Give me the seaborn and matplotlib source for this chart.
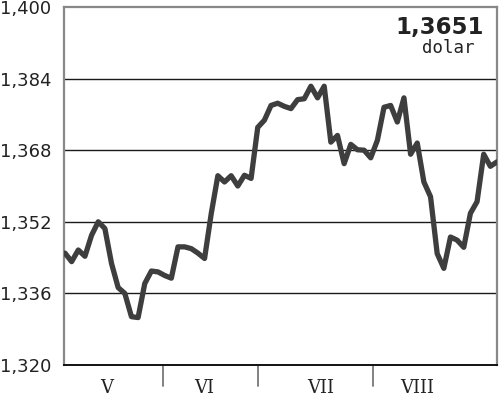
import matplotlib
matplotlib.use("Agg")
import matplotlib.pyplot as plt
import seaborn as sns
import pandas as pd

# ---- data ----
values = [1.3450, 1.3431, 1.3457, 1.3443, 1.3490, 1.3520, 1.3505, 1.3427, 1.3373, 1.3360,
          1.3308, 1.3306, 1.3382, 1.3410, 1.3408, 1.3400, 1.3394, 1.3464, 1.3464, 1.3460,
          1.3450, 1.3438, 1.3538, 1.3623, 1.3609, 1.3623, 1.3600, 1.3624, 1.3617, 1.3731,
          1.3747, 1.3780, 1.3785, 1.3778, 1.3773, 1.3793, 1.3795, 1.3823, 1.3797, 1.3823,
          1.3698, 1.3713, 1.3650, 1.3693, 1.3681, 1.3680, 1.3663, 1.3702, 1.3776, 1.3780,
          1.3743, 1.3797, 1.3671, 1.3696, 1.3609, 1.3576, 1.3449, 1.3416, 1.3486, 1.3479,
          1.3463, 1.3539, 1.3565, 1.3671, 1.3644, 1.3654]
y_ticks = [1.320, 1.336, 1.352, 1.368, 1.384, 1.400]
y_tick_labels = ["1,320", "1,336", "1,352", "1,368", "1,384", "1,400"]
month_labels = ["V", "VI", "VII", "VIII"]
month_label_pos = [6.3, 20.9, 38.5, 53.0]
month_boundaries = [14.8, 29.1, 46.4]
last_value_text = "1,3651"
unit_text = "dolar"

df = pd.DataFrame({"day": range(len(values)), "rate": values})

sns.set_style("white")
fig = plt.figure(figsize=(5.0, 3.96), dpi=100)
ax = fig.add_axes([0.128, 0.0783, 0.866, 0.904])

for yv in y_ticks[1:-1]:
    ax.axhline(yv, color="#1a1a1a", lw=1.0, zorder=1)

sns.lineplot(data=df, x="day", y="rate", ax=ax, color="#3e3e3e", lw=3.8,
             zorder=3, legend=False)
for line in ax.lines:
    line.set_solid_joinstyle("round")
    line.set_solid_capstyle("round")

ax.set_ylim(y_ticks[0], y_ticks[-1])
ax.set_xlim(-0.15, len(values) - 1)
ax.set_yticks(y_ticks)
ax.set_yticklabels(y_tick_labels, fontfamily="DejaVu Sans", fontsize=13, color="#222222")
ax.set_xticks(month_label_pos)
ax.set_xticklabels(month_labels, fontfamily="DejaVu Serif", fontsize=13, color="#222222")
ax.tick_params(axis="y", length=0, pad=9)
ax.tick_params(axis="x", length=0, pad=10)
ax.set_xlabel("")
ax.set_ylabel("")

for side in ["left", "right", "top"]:
    ax.spines[side].set_color("#888888")
    ax.spines[side].set_linewidth(1.6)
ax.spines["bottom"].set_color("#111111")
ax.spines["bottom"].set_linewidth(1.4)

trans = ax.get_xaxis_transform()
for b in month_boundaries:
    ax.plot([b, b], [0, -0.06], color="#777777", lw=1.3, transform=trans, clip_on=False)

ax.text(0.97, 0.975, last_value_text, transform=ax.transAxes, ha="right", va="top",
        fontfamily="DejaVu Sans", fontweight="bold", fontsize=16.5, color="#222222")
ax.text(0.949, 0.91, unit_text, transform=ax.transAxes, ha="right", va="top",
        fontfamily="DejaVu Sans Mono", fontsize=12.5, color="#222222")

fig.savefig("out.png", dpi=100)
